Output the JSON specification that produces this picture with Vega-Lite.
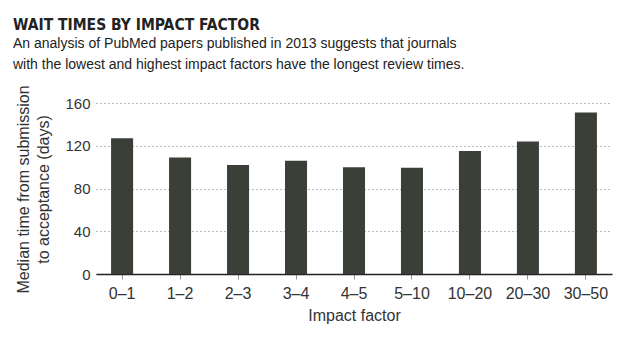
{
  "$schema": "https://vega.github.io/schema/vega-lite/v6.json",
  "autosize": "none",
  "width": 516,
  "height": 171,
  "padding": {"left": 96, "top": 103, "right": 18, "bottom": 71},
  "background": "white",
  "title": {
    "text": "WAIT TIMES BY IMPACT FACTOR",
    "subtitle": ["An analysis of PubMed papers published in 2013 suggests that journals", "with the lowest and highest impact factors have the longest review times."],
    "anchor": "start",
    "frame": "group",
    "dx": -83,
    "offset": 13,
    "font": "DejaVu Sans Condensed",
    "fontSize": 15.5,
    "fontWeight": "bold",
    "color": "#222222",
    "subtitleFont": "Liberation Sans",
    "subtitleFontSize": 14,
    "subtitleColor": "#222222",
    "subtitleLineHeight": 21,
    "subtitlePadding": 3
  },
  "data": {
    "values": [
      {"factor": "0–1", "days": 127},
      {"factor": "1–2", "days": 109},
      {"factor": "2–3", "days": 102},
      {"factor": "3–4", "days": 106},
      {"factor": "4–5", "days": 100},
      {"factor": "5–10", "days": 99.5},
      {"factor": "10–20", "days": 115},
      {"factor": "20–30", "days": 124},
      {"factor": "30–50", "days": 151}
    ]
  },
  "config": {
    "view": {"stroke": null},
    "font": "Liberation Sans"
  },
  "mark": {"type": "bar", "color": "#3a4038"},
  "encoding": {
    "x": {
      "field": "factor",
      "type": "nominal",
      "sort": null,
      "scale": {"paddingInner": 0.62, "paddingOuter": 0.26},
      "axis": {
        "title": "Impact factor",
        "labelAngle": 0,
        "labelFontSize": 16,
        "labelColor": "#333333",
        "labelPadding": 6,
        "tickSize": 5,
        "tickColor": "#999999",
        "domainColor": "#222222",
        "domainWidth": 1.5,
        "titleFontSize": 16,
        "titleFontWeight": "normal",
        "titleColor": "#333333",
        "titlePadding": 6
      }
    },
    "y": {
      "field": "days",
      "type": "quantitative",
      "scale": {"domain": [0, 160]},
      "axis": {
        "title": ["Median time from submission", "to acceptance (days)"],
        "values": [0, 40, 80, 120, 160],
        "domain": false,
        "ticks": false,
        "labelFontSize": 15,
        "labelColor": "#333333",
        "labelPadding": 6,
        "grid": true,
        "gridColor": "#777777",
        "gridDash": [1, 3],
        "gridWidth": 1,
        "titleFontSize": 16,
        "titleFontWeight": "normal",
        "titleColor": "#333333",
        "titleLineHeight": 20,
        "titleX": -68,
        "titleY": 86,
        "titleAlign": "center",
        "titleBaseline": "alphabetic",
        "titleAngle": -90
      }
    }
  }
}
